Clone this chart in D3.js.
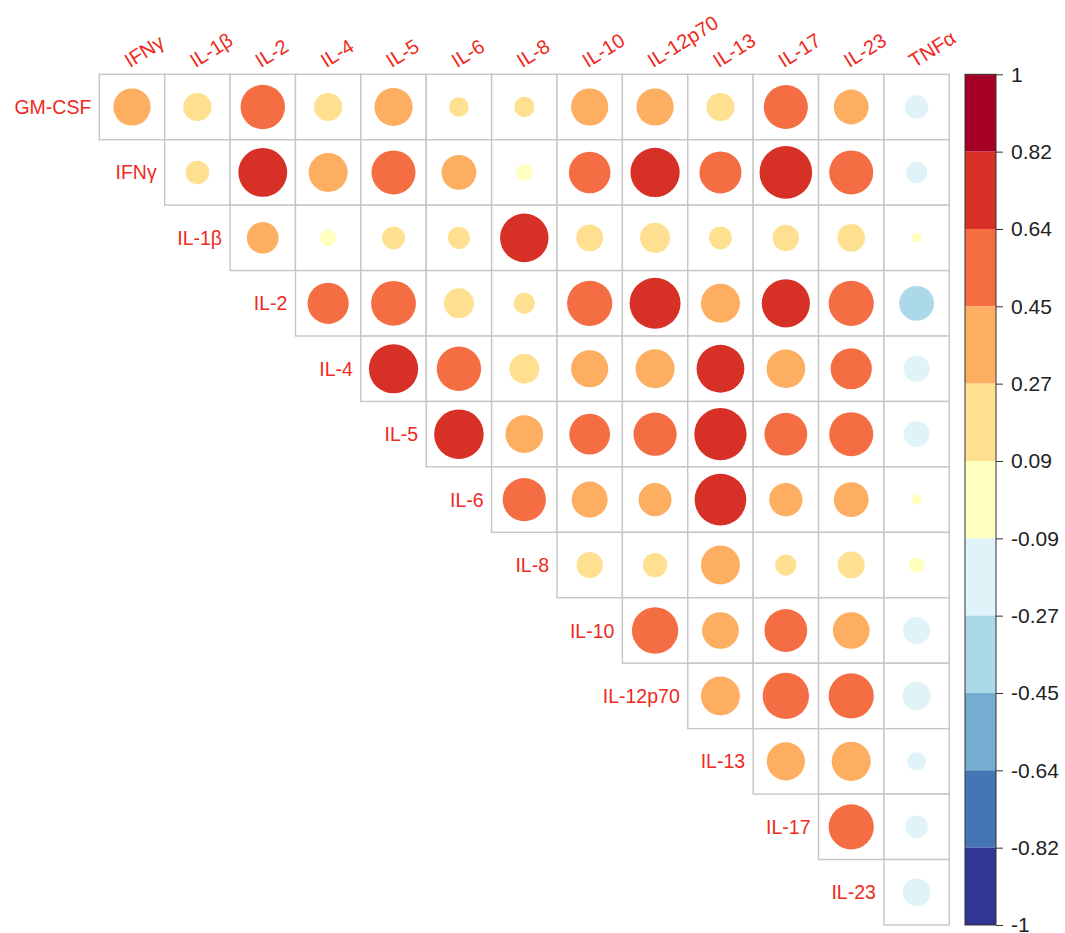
<!DOCTYPE html>
<html>
<head>
<meta charset="utf-8">
<script src="https://cdn.jsdelivr.net/npm/d3@7"></script>
<style>
  html, body { margin: 0; padding: 0; background: #fff; }
  svg { display: block; }
</style>
</head>
<body>
<svg id="chart" width="1065" height="933"></svg>
<script>
// ---- DATA ----
const variables = ["GM-CSF", "IFNγ", "IL-1β", "IL-2", "IL-4", "IL-5", "IL-6", "IL-8",
                   "IL-10", "IL-12p70", "IL-13", "IL-17", "IL-23", "TNFα"];
const rowLabels = variables.slice(0, 13);
const colLabels = variables.slice(1);

// upper-triangle correlations: row i lists values for columns i..12
const rGMCSF   = [0.40, 0.23, 0.57, 0.23, 0.42, 0.11, 0.12, 0.40, 0.40, 0.23, 0.56, 0.35, -0.16];
const rIFNg    = [0.16, 0.69, 0.44, 0.56, 0.35, 0.08, 0.50, 0.70, 0.51, 0.80, 0.56, -0.13];
const rIL1b    = [0.29, 0.08, 0.15, 0.14, 0.68, 0.21, 0.26, 0.15, 0.20, 0.22, 0.03];
const rIL2     = [0.49, 0.58, 0.26, 0.13, 0.59, 0.75, 0.44, 0.67, 0.59, -0.35];
const rIL4     = [0.70, 0.57, 0.26, 0.40, 0.44, 0.66, 0.43, 0.49, -0.20];
const rIL5     = [0.71, 0.41, 0.48, 0.54, 0.79, 0.53, 0.56, -0.19];
const rIL6     = [0.54, 0.375, 0.315, 0.77, 0.32, 0.35, 0.03];
const rIL8     = [0.20, 0.17, 0.44, 0.13, 0.21, 0.07];
const rIL10    = [0.62, 0.39, 0.53, 0.39, -0.21];
const rIL12p70 = [0.44, 0.62, 0.59, -0.23];
const rIL13    = [0.42, 0.44, -0.10];
const rIL17    = [0.59, -0.15];
const rIL23    = [-0.22];
const corrRows = [rGMCSF, rIFNg, rIL1b, rIL2, rIL4, rIL5, rIL6, rIL8, rIL10, rIL12p70, rIL13, rIL17, rIL23];

const legendLabels = ["1", "0.82", "0.64", "0.45", "0.27", "0.09", "-0.09", "-0.27", "-0.45", "-0.64", "-0.82", "-1"];
const palette = ["#313695", "#4575B4", "#74ADD1", "#ABD9E9", "#E0F3F8", "#FFFFBF",
                 "#FEE090", "#FDAE61", "#F46D43", "#D73027", "#A50026"];

// ---- LAYOUT ----
const gLeft = 99.3, gTop = 74.3, gRight = 949.3, gBottom = 925;
const labelColor = "#ee2a22";
const fontFam = "'Liberation Sans', Arial, Helvetica, sans-serif";

const svg = d3.select("#chart");

const x = d3.scaleBand().domain(colLabels).range([gLeft, gRight]);
const y = d3.scaleBand().domain(rowLabels).range([gTop, gBottom]);
const cell = x.bandwidth();
const rScale = d3.scaleSqrt().domain([0, 1]).range([0, 0.45 * cell]);
const colorScale = d3.scaleQuantize().domain([-1, 1]).range(palette);

const cells = [];
corrRows.forEach((vals, i) => {
  vals.forEach((v, k) => {
    cells.push({ row: rowLabels[i], col: colLabels[i + k], v });
  });
});

// grid cells
svg.append("g").selectAll("rect").data(cells).join("rect")
  .attr("x", d => x(d.col)).attr("y", d => y(d.row))
  .attr("width", cell).attr("height", cell)
  .attr("fill", "#fff").attr("stroke", "#c6c6c6").attr("stroke-width", 1.4);

// circles
svg.append("g").selectAll("circle").data(cells).join("circle")
  .attr("cx", d => x(d.col) + cell / 2)
  .attr("cy", d => y(d.row) + cell / 2)
  .attr("r", d => rScale(Math.abs(d.v)))
  .attr("fill", d => colorScale(d.v));

// row labels
svg.append("g").selectAll("text").data(rowLabels).join("text")
  .attr("x", (d, i) => x(colLabels[i]) - 8)
  .attr("y", d => y(d) + cell / 2)
  .attr("text-anchor", "end")
  .attr("dominant-baseline", "central")
  .attr("font-family", fontFam).attr("font-size", 19.5)
  .attr("fill", labelColor)
  .text(d => d);

// column labels (rotated)
svg.append("g").selectAll("text").data(colLabels).join("text")
  .attr("transform", d => `translate(${x(d) + cell / 2 - 2},${gTop - 6}) rotate(-32)`)
  .attr("text-anchor", "start")
  .attr("font-family", fontFam).attr("font-size", 20)
  .attr("fill", labelColor)
  .text(d => d);

// ---- COLOR LEGEND ----
const lx = 965, lw = 31;
const ly = d3.scalePoint().domain(legendLabels).range([gTop, gBottom]);
const legendG = svg.append("g");
palette.slice().reverse().forEach((c, i) => {
  const y0 = ly(legendLabels[i]), y1 = ly(legendLabels[i + 1]);
  legendG.append("rect")
    .attr("x", lx).attr("y", y0).attr("width", lw).attr("height", y1 - y0)
    .attr("fill", c);
});
legendG.append("rect")
  .attr("x", lx).attr("y", gTop).attr("width", lw).attr("height", gBottom - gTop)
  .attr("fill", "none").attr("stroke", "#333").attr("stroke-width", 1);

const axis = d3.axisRight(ly).tickSize(7).tickPadding(8);
const axG = svg.append("g").attr("transform", `translate(${lx + lw},0)`).call(axis);
axG.select(".domain").remove();
axG.selectAll(".tick line").attr("stroke", "#333");
axG.selectAll(".tick text")
  .attr("font-family", fontFam).attr("font-size", 21).attr("fill", "#222");
</script>
</body>
</html>
